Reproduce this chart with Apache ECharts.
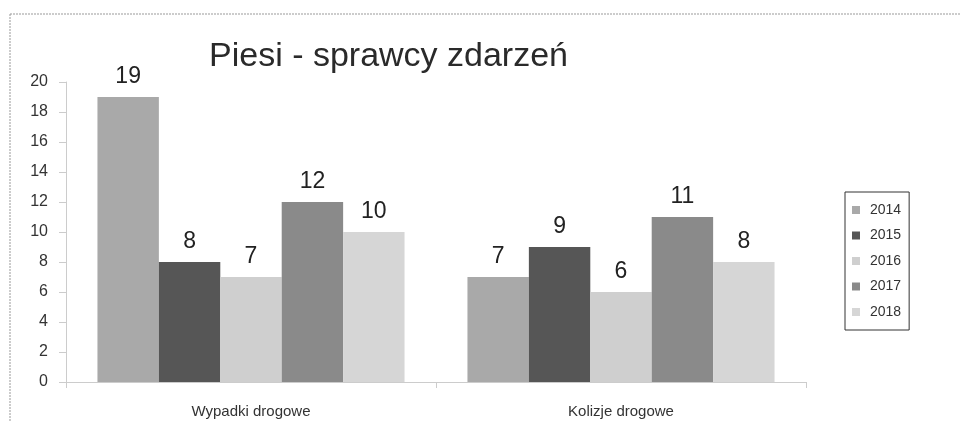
<!DOCTYPE html>
<html>
<head>
<meta charset="utf-8">
<script src="https://cdn.jsdelivr.net/npm/echarts@6/dist/echarts.min.js"></script>
<style>
  html, body { margin: 0; padding: 0; background: #fff; }
  #chart { width: 961px; height: 421px; }
</style>
</head>
<body>
<div id="chart"></div>
<script>
// dane wykresu
const categories = ['Wypadki drogowe', 'Kolizje drogowe']
const years = ['2014', '2015', '2016', '2017', '2018']
const v2014 = [19, 7]
const v2015 = [8, 9]
const v2016 = [7, 6]
const v2017 = [12, 11]
const v2018 = [10, 8]
const yTicks = [0, 2, 4, 6, 8, 10, 12, 14, 16, 18, 20]

const values = [v2014, v2015, v2016, v2017, v2018]
const colors = ['#a9a9a9', '#565656', '#cfcfcf', '#8a8a8a', '#d6d6d6']

const myChart = echarts.init(document.getElementById('chart'))

const option = {
    backgroundColor: '#fff',
    animation: false,
    title: {
        text: 'Piesi - sprawcy zdarzeń',
        left: 204,
        top: 35,
        textStyle: { fontFamily: 'Liberation Sans', fontSize: 34, fontWeight: 'normal', color: '#2a2a2a' }
    },
    legend: {
        orient: 'vertical',
        left: 845,
        top: 192,
        width: 65,
        padding: [11, 8, 11, 7],
        itemGap: 11.5,
        itemWidth: 8,
        itemHeight: 8,
        borderColor: '#333',
        borderWidth: 1,
        borderRadius: 0,
        icon: 'rect',
        data: years,
        textStyle: { fontFamily: 'Liberation Sans', fontSize: 14, color: '#333', padding: [0, 0, 0, 5] }
    },
    grid: { left: 66, right: 155, top: 82, bottom: 39 },
    xAxis: {
        type: 'category',
        data: categories,
        axisLine: { lineStyle: { color: '#ccc' } },
        axisTick: { show: true, length: 6, lineStyle: { color: '#ccc' } },
        axisLabel: { margin: 22, fontFamily: 'Liberation Sans', fontSize: 15, color: '#333' }
    },
    yAxis: {
        type: 'value',
        min: 0,
        max: yTicks[yTicks.length - 1],
        interval: 2,
        axisLine: { show: true, lineStyle: { color: '#ccc' } },
        axisTick: { show: true, length: 7, lineStyle: { color: '#ccc' } },
        splitLine: { show: false },
        axisLabel: { margin: 18, fontFamily: 'Liberation Sans', fontSize: 16, color: '#333' }
    },
    series: years.map((y, i) => ({
        name: y,
        type: 'bar',
        data: values[i],
        barGap: '0%',
        barCategoryGap: '17%',
        itemStyle: { color: colors[i] },
        label: {
            show: true,
            position: 'top',
            distance: 9,
            fontFamily: 'Liberation Sans',
            fontSize: 23,
            color: '#222'
        }
    })),
    graphic: [
        { type: 'line', shape: { x1: 10, y1: 14, x2: 961, y2: 14 }, style: { stroke: '#999', lineWidth: 1, lineDash: [2, 1] } },
        { type: 'line', shape: { x1: 10, y1: 14, x2: 10, y2: 421 }, style: { stroke: '#999', lineWidth: 1, lineDash: [2, 1] } }
    ]
}

myChart.setOption(option)
</script>
</body>
</html>
